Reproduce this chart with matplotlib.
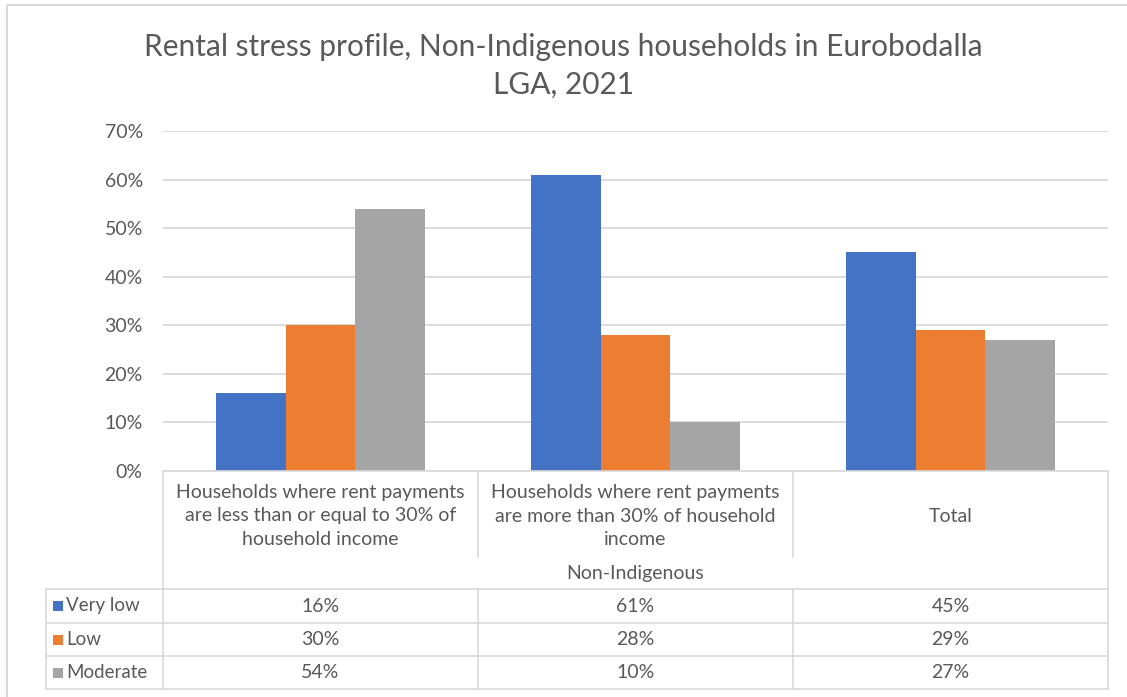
import matplotlib
matplotlib.use("Agg")
import matplotlib.pyplot as plt
from matplotlib.lines import Line2D
from matplotlib.patches import Rectangle
import numpy as np

plt.rcParams["font.family"] = ["Lato", "DejaVu Sans"]

title = "Rental stress profile, Non-Indigenous households in Eurobodalla\nLGA, 2021"
categories = [
    "Households where rent payments\nare less than or equal to 30% of\nhousehold income",
    "Households where rent payments\nare more than 30% of household\nincome",
    "Total",
]
group_label = "Non-Indigenous"
series_names = ["Very low", "Low", "Moderate"]
very_low = [16, 61, 45]
low = [30, 28, 29]
moderate = [54, 10, 27]
yticks = [0, 10, 20, 30, 40, 50, 60, 70]

colors = ["#4472C4", "#ED7D31", "#A5A5A5"]
TEXT = "#595959"
LINE = "#D9D9D9"
FS = 14

W, H = 1127, 697
fig = plt.figure(figsize=(W / 100, H / 100), dpi=100)

# pixel helpers for the chart frame
x0, x1 = 163, 1108
y_top, y_zero = 131, 471


def fx(px):
    return px / W


def fy(py):
    return 1 - py / H


ax = fig.add_axes([fx(x0), fy(y_zero), fx(x1) - fx(x0), fy(y_top) - fy(y_zero)])
series = [very_low, low, moderate]
n = len(categories)
x = np.arange(n)
bw = 0.222
for i, (vals, c) in enumerate(zip(series, colors)):
    ax.bar(x + (i - 1) * bw, vals, width=bw, color=c, zorder=3)

ax.set_xlim(-0.5, n - 0.5)
ax.set_ylim(0, 70)
ax.set_yticks(yticks)
ax.set_yticklabels([f"{t}%" for t in yticks], color=TEXT, fontsize=FS)
ax.set_xticks([])
ax.tick_params(axis="y", length=0, pad=14.5)
ax.grid(axis="y", color=LINE, linewidth=1.3, zorder=0)
for s in ax.spines.values():
    s.set_visible(False)

# overlay in pixel coordinates for the data table and frame
ov = fig.add_axes([0, 0, 1, 1])
ov.set_xlim(0, W)
ov.set_ylim(H, 0)
ov.axis("off")
ov.patch.set_alpha(0)

ov.add_patch(Rectangle((7, 5), W + 10, H + 10, fill=False, edgecolor=LINE, linewidth=1.5))


def hline(xa, xb, y):
    ov.add_line(Line2D([xa, xb], [y, y], color=LINE, linewidth=1.2))


def vline(x_, ya, yb):
    ov.add_line(Line2D([x_, x_], [ya, yb], color=LINE, linewidth=1.2))


col_w = (x1 - x0) / n
row_tops = [589, 623, 656, 689]
left_col = 46

hline(x0, x1, y_zero)
for y in row_tops:
    hline(left_col, x1, y)
vline(x0, y_zero, row_tops[-1])
vline(x1, y_zero, row_tops[-1])
vline(left_col, row_tops[0], row_tops[-1])
for k in range(1, n):
    xs = x0 + k * col_w
    vline(xs, y_zero, 557)
    vline(xs, row_tops[0], row_tops[-1])

for k, lab in enumerate(categories):
    cx = x0 + (k + 0.5) * col_w
    ov.text(cx, 516, lab, ha="center", va="center", fontsize=FS, color=TEXT,
            linespacing=1.45)
ov.text((x0 + x1) / 2, 574, group_label, ha="center", va="center", fontsize=FS, color=TEXT)

for r, (name, vals, c) in enumerate(zip(series_names, series, colors)):
    cy = (row_tops[r] + row_tops[r + 1]) / 2
    ov.add_patch(Rectangle((53, cy - 5), 10, 10, facecolor=c, edgecolor="none"))
    ov.text(66, cy, name, ha="left", va="center", fontsize=13.5, color=TEXT)
    for k, v in enumerate(vals):
        cx = x0 + (k + 0.5) * col_w
        ov.text(cx, cy, f"{v}%", ha="center", va="center", fontsize=FS, color=TEXT)

fig.text(0.5, 1 - 66 / H, title, ha="center", va="center", fontsize=21.5, color=TEXT,
         linespacing=1.4)

fig.savefig("out.png", dpi=100)
